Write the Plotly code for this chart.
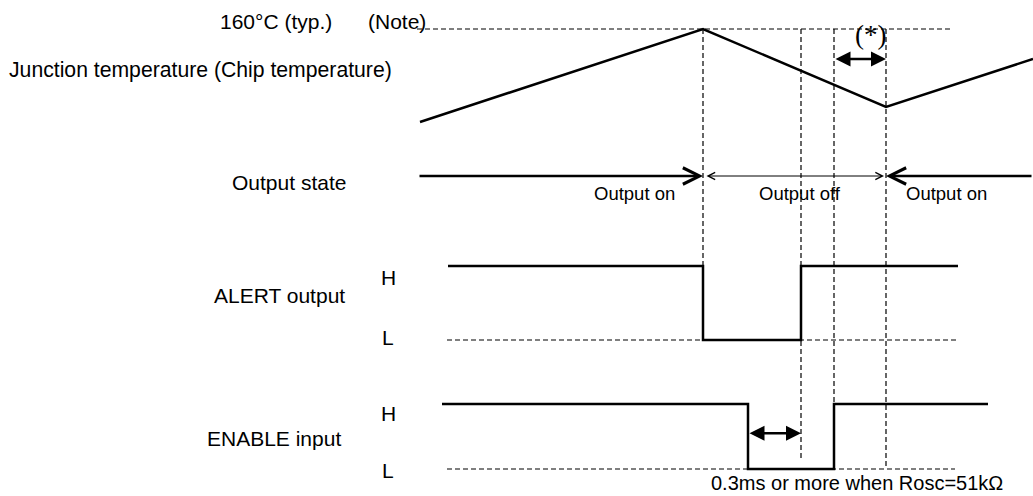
import plotly.graph_objects as go

# ------------------------------------------------------------------ data
# horizontal axis: diagram time units
temp_time = [420, 703, 886, 1033]
temp_degC = [129, 160, 134, 150]
limit_degC = 160
limit_span = [417, 953]

alert_time = [448, 703, 703, 801, 801, 958]
alert_level = [1, 1, 0, 0, 1, 1]
alert_low_span = [447, 958]

enable_time = [442, 748, 748, 834, 834, 988]
enable_level = [1, 1, 0, 0, 1, 1]
enable_low_span = [447, 955]

event_time = [703, 801, 834, 886]
event_end_panel = ["alert", "enable", "enable", "enable"]
event_end_level = [1, 0.14, 1, 0]

state_tail = [418, 705, 1033]
state_head = [703, 884, 886]
state_labels = ["Output on", "Output off", "Output on"]
state_label_time = [634, 800, 946]

hyst_span = [834, 886]
hyst_degC = 150
enable_min_span = [748, 801]
enable_min_level = 0.55

# ------------------------------------------------------------------ layout helpers
FIG_W, FIG_H = 1033, 496
PANELS = {
    "temp":   dict(axis="y",  zero_px=509, k=3,  top=10,  bottom=140),
    "state":  dict(axis="y2", zero_px=176, k=20, top=145, bottom=215),
    "alert":  dict(axis="y3", zero_px=340, k=74, top=235, bottom=365),
    "enable": dict(axis="y4", zero_px=469, k=65, top=375, bottom=496),
}


def val_at(p, px):
    return (p["zero_px"] - px) / p["k"]


def paper_y(panel, v):
    p = PANELS[panel]
    return 1 - (p["zero_px"] - p["k"] * v) / FIG_H


FONT = "Liberation Sans, Arial, sans-serif"
BLACK = "#000000"
DASH = dict(color=BLACK, width=1.2, dash="5px,3px")

fig = go.Figure()

# temperature
fig.add_trace(go.Scatter(x=temp_time, y=temp_degC, yaxis="y", mode="lines",
                         line=dict(color=BLACK, width=2.5)))
fig.add_trace(go.Scatter(x=limit_span, y=[limit_degC, limit_degC], yaxis="y", mode="lines",
                         line=DASH))
# state row placeholder
fig.add_trace(go.Scatter(x=[state_tail[0]], y=[0], yaxis="y2", mode="markers",
                         marker=dict(opacity=0)))
# ALERT
fig.add_trace(go.Scatter(x=alert_low_span, y=[0, 0], yaxis="y3", mode="lines",
                         line=DASH))
fig.add_trace(go.Scatter(x=alert_time, y=alert_level, yaxis="y3", mode="lines",
                         line=dict(color=BLACK, width=2.5)))
# ENABLE
fig.add_trace(go.Scatter(x=enable_low_span, y=[0, 0], yaxis="y4", mode="lines",
                         line=DASH))
fig.add_trace(go.Scatter(x=enable_time, y=enable_level, yaxis="y4", mode="lines",
                         line=dict(color=BLACK, width=2.5)))

# event markers (vertical dashed)
for t, pan, lv in zip(event_time, event_end_panel, event_end_level):
    fig.add_shape(type="line", xref="x", yref="paper", x0=t, x1=t,
                  y0=paper_y("temp", limit_degC), y1=paper_y(pan, lv),
                  line=DASH, layer="below")

ann = []


def arrow(x_tail, x_head, y, yref, head, width, size, both=False):
    return dict(x=x_head, y=y, xref="x", yref=yref, ax=x_tail, ay=y,
                axref="x", ayref=yref, text="", showarrow=True,
                arrowhead=head, arrowwidth=width, arrowsize=size, arrowcolor=BLACK,
                standoff=0, startstandoff=0,
                arrowside="end+start" if both else "end",
                startarrowhead=head, startarrowsize=size)


ann.append(arrow(state_tail[0], state_head[0], 0, "y2", 5, 2.5, 1.3))
ann.append(arrow(state_tail[1], state_head[1], 0, "y2", 5, 1, 1.4, both=True))
ann.append(arrow(state_tail[2], state_head[2], 0, "y2", 5, 2.5, 1.3))
ann.append(arrow(hyst_span[0], hyst_span[1], hyst_degC, "y", 2, 2.5, 1.2, both=True))
ann.append(arrow(enable_min_span[0], enable_min_span[1], enable_min_level, "y4", 2, 2.5, 1.2, both=True))


def label(text, x, y, yref, xanchor, size=21, family=FONT, yanchor="middle"):
    return dict(text=text, x=x, y=y, xref="x", yref=yref, xanchor=xanchor,
                yanchor=yanchor, showarrow=False, borderpad=0,
                font=dict(family=family, size=size, color=BLACK))


ann.append(label("160°C (typ.)", 333, val_at(PANELS["temp"], 22), "y", "right"))
ann.append(label("(Note)", 367, val_at(PANELS["temp"], 22), "y", "left"))
ann.append(label("Junction temperature (Chip temperature)", 393,
                 val_at(PANELS["temp"], 70), "y", "right", size=21.2))
ann.append(label("(*)", 870, val_at(PANELS["temp"], 35), "y", "center",
                 size=27, family="Liberation Serif, Times New Roman, serif"))
ann.append(label("Output state", 347, val_at(PANELS["state"], 182), "y2", "right"))
for txt, t in zip(state_labels, state_label_time):
    ann.append(label(txt, t, val_at(PANELS["state"], 193), "y2", "center", size=18.5))
ann.append(label("ALERT output", 346, val_at(PANELS["alert"], 295), "y3", "right"))
ann.append(label("H", 388, val_at(PANELS["alert"], 277), "y3", "center"))
ann.append(label("L", 388, val_at(PANELS["alert"], 337), "y3", "center"))
ann.append(label("ENABLE input", 342, val_at(PANELS["enable"], 438), "y4", "right"))
ann.append(label("H", 388, val_at(PANELS["enable"], 413), "y4", "center"))
ann.append(label("L", 388, val_at(PANELS["enable"], 470), "y4", "center"))
ann.append(label("0.3ms or more when Rosc=51kΩ", 710, val_at(PANELS["enable"], 495),
                 "y4", "left", size=20, yanchor="bottom"))

layout_axes = {}
for name, p in PANELS.items():
    key = "yaxis" if p["axis"] == "y" else "yaxis" + p["axis"][1:]
    layout_axes[key] = dict(
        domain=[1 - p["bottom"] / FIG_H, 1 - p["top"] / FIG_H],
        range=[val_at(p, p["bottom"]), val_at(p, p["top"])],
        visible=False, fixedrange=True, anchor="x")

fig.update_layout(
    width=FIG_W, height=FIG_H, autosize=False,
    margin=dict(l=0, r=0, t=0, b=0, pad=0),
    paper_bgcolor="white", plot_bgcolor="white",
    showlegend=False, hovermode=False,
    xaxis=dict(range=[0, FIG_W], visible=False, fixedrange=True),
    annotations=ann,
    **layout_axes,
)

fig.write_html("out.html", config={"displayModeBar": False},
               post_script="document.body.style.margin='0';")
